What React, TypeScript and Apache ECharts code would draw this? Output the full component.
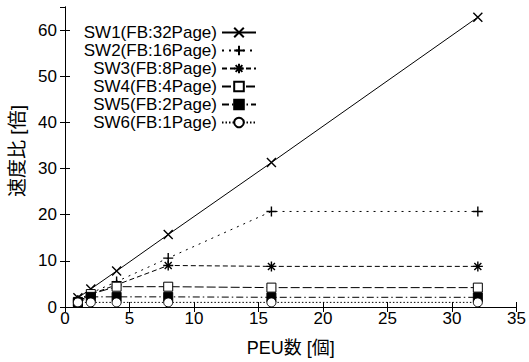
import React, { useEffect, useRef } from "react";
import * as echarts from "echarts";

const peuCounts = [1, 2, 4, 8, 16, 32];
const seriesNames = [
  "SW1(FB:32Page)",
  "SW2(FB:16Page)",
  "SW3(FB:8Page)",
  "SW4(FB:4Page)",
  "SW5(FB:2Page)",
  "SW6(FB:1Page)",
];
const sw1 = [2.0, 3.9, 7.8, 15.7, 31.3, 62.8];
const sw2 = [1.5, 3.0, 5.5, 10.6, 20.7, 20.7];
const sw3 = [1.2, 2.8, 4.8, 9.0, 8.8, 8.8];
const sw4 = [1.1, 2.8, 4.4, 4.4, 4.2, 4.2];
const sw5 = [1.0, 2.2, 2.2, 2.2, 2.1, 2.1];
const sw6 = [1.0, 1.0, 1.0, 1.0, 1.0, 1.0];
const xTicks = { min: 0, max: 35, interval: 5 };
const yTicks = { min: 0, max: 65, interval: 10 };
const xAxisName = "PEU数 [個]";
const yAxisName = "速度比 [倍]";

const FONT = "'Liberation Sans', Arial, 'Noto Sans CJK JP', sans-serif";

const CROSS = "path://M0 0 L10 10 M10 0 L0 10";
const PLUS = "path://M5 0 L5 10 M0 5 L10 5";
const STAR = "path://M5 0 L5 10 M0 5 L10 5 M1.5 1.5 L8.5 8.5 M8.5 1.5 L1.5 8.5";

export default function App() {
  const ref = useRef<HTMLDivElement>(null);
  useEffect(() => {
    if (!ref.current) return;
    const chart = echarts.init(ref.current, null, { renderer: "svg" });
    const allValues = [sw1, sw2, sw3, sw4, sw5, sw6];
    const styles = [
      { symbol: CROSS, size: 9, dash: "solid" as any, fill: "#000" },
      { symbol: PLUS, size: 10, dash: [2, 5], fill: "#000" },
      { symbol: STAR, size: 10, dash: [5, 3], fill: "#000" },
      { symbol: "rect", size: 9, dash: [9, 3], fill: "#fff" },
      { symbol: "rect", size: 9, dash: [7, 3, 1.5, 3], fill: "#000" },
      { symbol: "circle", size: 9, dash: [1.5, 2], fill: "#fff" },
    ];
    const series = allValues.map((vals, i) => ({
      name: seriesNames[i],
      type: "line",
      xAxisIndex: 0,
      yAxisIndex: 0,
      data: peuCounts.map((x, j) => [x, vals[j]]),
      symbol: styles[i].symbol,
      symbolSize: styles[i].size,
      showAllSymbol: true,
      lineStyle: { color: "#000", width: 1, type: styles[i].dash },
      itemStyle: {
        color: styles[i].fill,
        borderColor: "#000",
        borderWidth: i < 3 ? 1.4 : 1,
      },
      emphasis: { disabled: true },
      z: 2 + i,
    }));
    const axisCommon = {
      type: "value",
      axisLine: { show: true, lineStyle: { color: "#000", width: 1 } },
      axisTick: { show: true, inside: true, length: 5, lineStyle: { color: "#000" } },
      splitLine: { show: false },
    };
    chart.setOption({
      animation: false,
      backgroundColor: "#fff",
      grid: { left: 65, right: 12, top: 7, bottom: 53 },
      legend: {
        orient: "vertical",
        align: "right",
        right: 272,
        top: 24,
        padding: 0,
        itemWidth: 34,
        itemHeight: 12,
        itemGap: 1,
        data: seriesNames,
        textStyle: { fontSize: 17, fontFamily: FONT, color: "#000", lineHeight: 17 },
      },
      xAxis: [
        {
          ...axisCommon,
          position: "bottom",
          ...xTicks,
          name: xAxisName,
          nameLocation: "middle",
          nameGap: 32,
          nameTextStyle: { fontSize: 18, fontFamily: FONT, color: "#000" },
          axisLabel: { fontSize: 17, fontFamily: FONT, color: "#000", margin: 3 },
        },
        {
          ...axisCommon,
          position: "top",
          ...xTicks,
          axisLabel: { show: false },
        },
      ],
      yAxis: [
        {
          ...axisCommon,
          position: "left",
          ...yTicks,
          name: yAxisName,
          nameLocation: "middle",
          nameGap: 36,
          nameTextStyle: {
            fontSize: 19,
            fontFamily: FONT,
            color: "#000",
            padding: [0, 0, 0, 12],
          },
          axisLabel: {
            fontSize: 17,
            fontFamily: FONT,
            color: "#000",
            margin: 8,
            showMaxLabel: false,
            formatter: (v: number) => (v % 10 === 0 ? String(v) : ""),
          },
        },
        {
          ...axisCommon,
          position: "right",
          ...yTicks,
          axisLabel: { show: false },
        },
      ],
      series,
    });
    return () => chart.dispose();
  }, []);
  return (
    <div
      ref={ref}
      style={{ position: "fixed", left: 0, top: 0, width: 529, height: 362 }}
    />
  );
}
